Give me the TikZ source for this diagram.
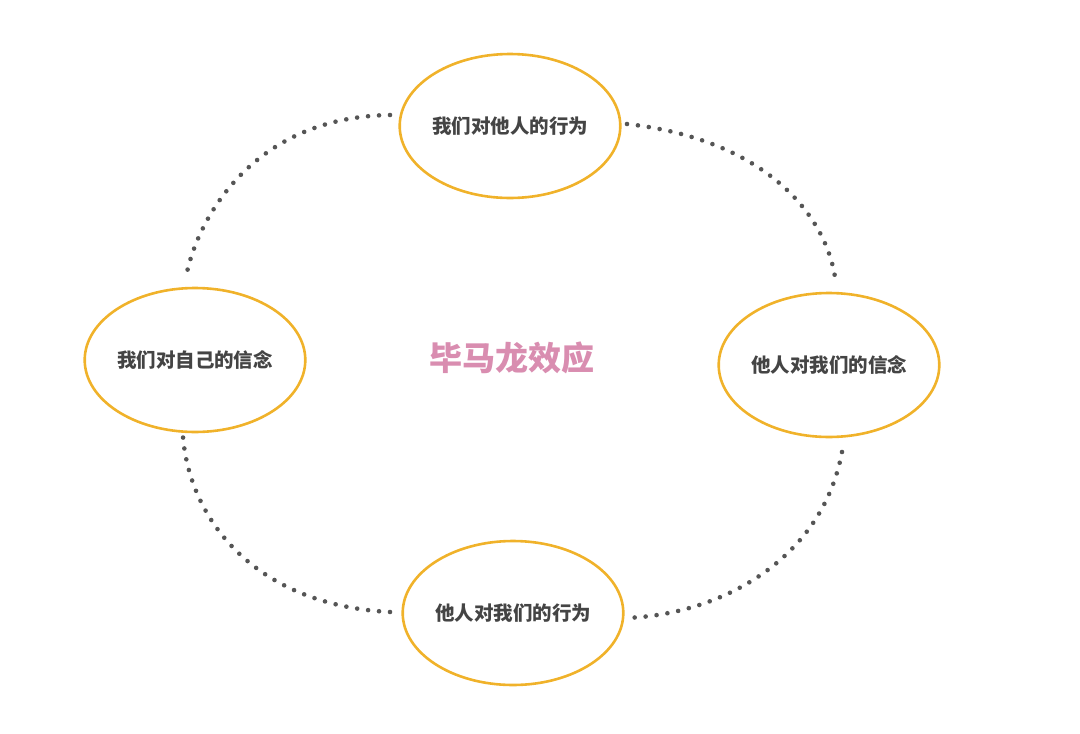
\documentclass[tikz,border=0pt]{standalone}
\usepackage{fontspec}
\usetikzlibrary{shapes.geometric}
\newfontfamily\cjk{Noto Sans CJK SC}
\definecolor{ring}{HTML}{F0B22A}
\definecolor{dots}{HTML}{555555}
\definecolor{txt}{HTML}{444444}
\definecolor{title}{HTML}{D98DB0}
\begin{document}
\begin{tikzpicture}[x=1pt,y=-1pt,
  oval/.style={draw=ring,line width=2.6pt,ellipse,minimum width=206pt,minimum height=144pt,inner sep=0pt,font=\cjk\bfseries\fontsize{19.5}{22}\selectfont,text=txt},
  dotline/.style={dots,line width=4.6pt,line cap=round,dash pattern=on 0pt off 11pt}]
\useasboundingbox (0,0) rectangle (1080,734);
\node[oval] (top) at (510,126) {我们对他人的行为};
\node[oval] (left) at (195,360) {我们对自己的信念};
\node[oval] (right) at (829,365) {他人对我们的信念};
\node[oval] (bot) at (513,613) {他人对我们的行为};
\node[font=\cjk\bfseries\fontsize{33}{37}\selectfont,text=title] (c) at (512,358) {毕马龙效应};
\coordinate (a1) at (390,115); \coordinate (a2) at (187,272);
\coordinate (b1) at (627,124); \coordinate (b2) at (836,285);
\coordinate (c1) at (842,452); \coordinate (c2) at (625,618);
\coordinate (d1) at (390,612); \coordinate (d2) at (183,437);
\draw[dotline] (a1) .. controls (255,117) and (200,215) .. (a2);
\draw[dotline] (b1) .. controls (770,140) and (830,220) .. (b2);
\draw[dotline] (c1) .. controls (822,560) and (720,615) .. (c2);
\draw[dotline] (d1) .. controls (255,605) and (190,520) .. (d2);
\end{tikzpicture}
\end{document}
